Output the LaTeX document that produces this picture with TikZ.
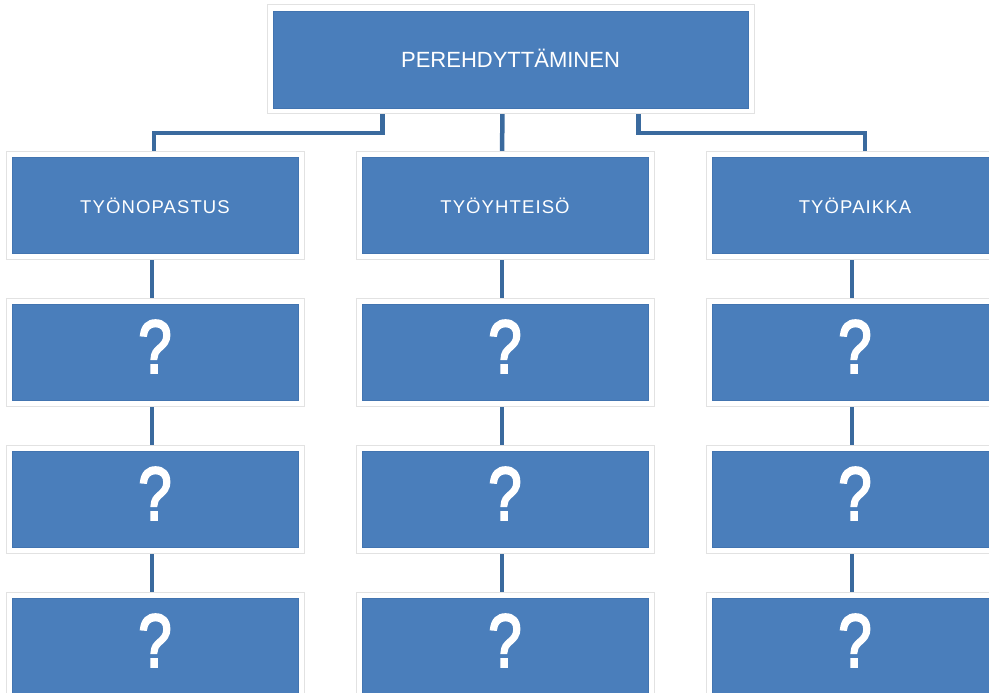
\documentclass[tikz,border=0pt]{standalone}
\usepackage{fontspec}
\setmainfont{Liberation Sans}
\newfontfamily\labelfont[LetterSpace=6]{Liberation Sans}
\newfontfamily\askfont[FakeBold=3]{Liberation Sans}
\usetikzlibrary{calc,backgrounds}
\definecolor{boxblue}{HTML}{4A7EBB}
\definecolor{boxrim}{HTML}{4274B0}
\definecolor{linkblue}{HTML}{3A6A9E}
\definecolor{framegray}{HTML}{E2E2E2}
\newcommand{\askmark}{\raisebox{11pt}{\scalebox{0.8}[1]{?}}}
\tikzset{
  x=1pt, y=-1pt,
  card/.style={rectangle, inner sep=0pt, fill=boxblue, draw=boxrim, line width=0.8pt,
    text=white, minimum width=286pt, minimum height=96pt,
    preaction={draw=framegray, line width=13pt},
    preaction={draw=white, line width=11pt}},
  topcard/.style={card, minimum width=475pt, minimum height=97pt,
    font=\fontsize{22}{24}\selectfont, text depth=0pt},
  headcard/.style={card, font=\labelfont\fontsize{18.5}{20}\selectfont},
  askcard/.style={card, font=\askfont\fontsize{75}{80}\selectfont},
  link/.style={draw=linkblue, line width=4.5pt}
}
\begin{document}
\begin{tikzpicture}
\useasboundingbox (0,0) rectangle (989,693);
\clip (0,0) rectangle (989,693);

% root
\node[topcard] (root) at (510.5,59.5) {\raisebox{3pt}{PEREHDYTTÄMINEN}};

% column headings
\node[headcard] (h1) at (155,205.5) {TYÖNOPASTUS};
\node[headcard] (h2) at (505,205.5) {TYÖYHTEISÖ};
\node[headcard] (h3) at (855,205.5) {TYÖPAIKKA};

% open questions under each heading
\foreach \c/\x in {1/155, 2/505, 3/855} {
  \node[askcard] (q\c a) at (\x,352) {\askmark};
  \node[askcard] (q\c b) at (\x,499) {\askmark};
  \node[askcard] (q\c c) at (\x,646) {\askmark};
}

\begin{scope}[on background layer]
  % root to headings
  \coordinate (rl) at ([xshift=-128pt]root.south);
  \coordinate (rr) at ([xshift=128pt]root.south);
  \coordinate (h1t) at ([xshift=-1pt]h1.north);
  \coordinate (h3t) at ([xshift=10pt]h3.north);
  \draw[link] (rl) |- ($(rl)!0.5!(h1t)$) -| (h1t);
  \draw[link] ([xshift=-8pt]root.south) -- ([xshift=-3pt]h2.north);
  \draw[link] (rr) |- ($(rr)!0.5!(h3t)$) -| (h3t);
  % chains down each column
  \foreach \c in {1,2,3} {
    \draw[link] ([xshift=-3pt]h\c.south) -- ([xshift=-3pt]q\c a.north);
    \draw[link] ([xshift=-3pt]q\c a.south) -- ([xshift=-3pt]q\c b.north);
    \draw[link] ([xshift=-3pt]q\c b.south) -- ([xshift=-3pt]q\c c.north);
  }
\end{scope}
\end{tikzpicture}
\end{document}
